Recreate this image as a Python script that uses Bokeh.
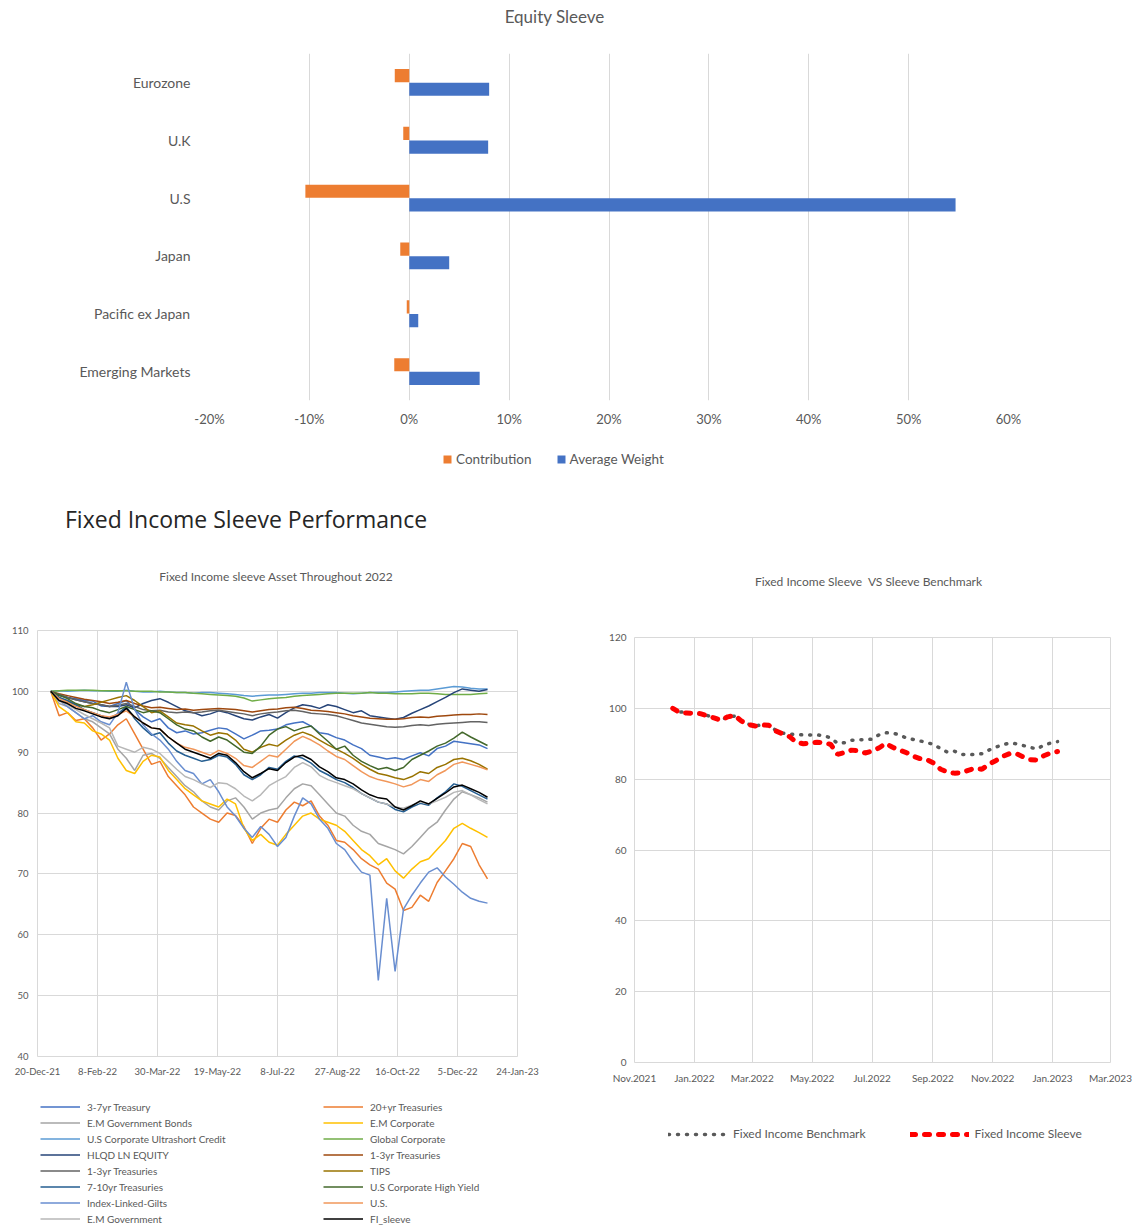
import pandas as pd
from bokeh.plotting import figure
from bokeh.models import (ColumnDataSource, FactorRange, Legend, LegendItem, Div, Spacer,
                          FixedTicker, NumeralTickFormatter, Range1d)
from bokeh.transform import dodge
from bokeh.layouts import column, row
from bokeh.embed import file_html
from bokeh.resources import INLINE

# ---------------- data: Equity Sleeve ----------------
REGIONS = ["Eurozone", "U.K", "U.S", "Japan", "Pacific ex Japan", "Emerging Markets"]
CONTRIBUTION = [-0.0145, -0.006, -0.104, -0.009, -0.0025, -0.015]
AVERAGE_WEIGHT = [0.080, 0.079, 0.547, 0.040, 0.009, 0.0705]
EQ_TICKS = [-0.2, -0.1, 0.0, 0.1, 0.2, 0.3, 0.4, 0.5, 0.6]

# ---------------- data: Fixed income assets (weekly, 2022) ----------------
FI_START = "2021-12-31"
FI_NAMES = ["3-7yr Treasury", "20+yr Treasuries", "E.M Government Bonds", "E.M Corporate",
            "U.S Corporate Ultrashort Credit", "Global Corporate", "HLQD LN EQUITY",
            "1-3yr Treasuries", "1-3yr Treasuries", "TIPS", "7-10yr Treasuries",
            "U.S Corporate High Yield", "Index-Linked-Gilts", "U.S.", "E.M Government", "FI_sleeve"]
FI_COLORS = ["#4472C4", "#ED7D31", "#A5A5A5", "#FFC000", "#5B9BD5", "#70AD47", "#264478",
             "#9E480E", "#636363", "#997300", "#255E91", "#43682B", "#698ED0", "#F1975A",
             "#B7B7B7", "#000000"]

T_3_7 = [100.0, 99.5, 99.0, 98.8, 98.5, 98.4, 97.6, 97.5, 98.0, 98.5, 97.0, 95.8, 95.0, 95.5, 94.0, 93.2,
         93.5, 93.0, 93.2, 93.6, 94.0, 93.8, 93.0, 92.2, 92.8, 93.5, 93.6, 93.8, 94.5, 94.8, 95.0, 94.3,
         93.2, 93.0, 92.4, 92.0, 91.2, 90.6, 89.5, 89.2, 88.9, 89.1, 88.8, 89.4, 89.9, 89.4, 90.6, 91.0,
         91.8, 91.6, 91.4, 91.2, 90.6]
T_20 = [100.0, 96.0, 96.5, 95.2, 95.5, 94.0, 92.0, 93.0, 94.5, 95.5, 93.0, 90.5, 88.0, 88.5, 86.0, 84.5,
        83.0, 81.0, 80.0, 79.0, 78.5, 80.0, 79.6, 77.8, 75.0, 77.5, 79.0, 78.5, 80.5, 81.8, 81.2, 82.0,
        79.5, 78.0, 75.5, 75.2, 74.0, 72.5, 71.5, 70.8, 68.5, 67.5, 64.0, 64.5, 66.5, 65.5, 68.6, 70.5,
        72.5, 75.0, 74.5, 71.5, 69.2]
EM_GOV_BONDS = [100.0, 98.0, 97.5, 96.5, 95.5, 95.0, 94.0, 93.0, 90.5, 89.0, 87.0, 89.5, 89.8, 89.0, 87.5,
                86.0, 84.5, 83.5, 82.0, 81.0, 80.5, 82.0, 82.5, 81.0, 79.0, 80.0, 80.5, 80.8, 82.5, 84.0,
                84.8, 84.5, 83.0, 81.5, 80.0, 79.5, 78.0, 77.0, 76.5, 75.0, 74.5, 74.0, 73.3, 74.5, 76.0,
                77.5, 78.5, 80.5, 82.3, 83.5, 83.0, 82.5, 81.8]
EM_CORP = [100.0, 97.5, 96.5, 95.0, 94.8, 93.5, 93.0, 92.0, 89.0, 87.0, 86.5, 88.5, 89.5, 89.2, 87.0, 85.5,
           84.0, 83.0, 82.0, 81.5, 81.0, 82.3, 81.5, 77.5, 75.5, 76.5, 75.2, 74.7, 76.5, 78.0, 79.5, 80.0,
           79.0, 78.5, 78.0, 77.0, 75.5, 74.0, 73.0, 71.5, 72.5, 70.5, 69.3, 70.8, 72.0, 72.5, 74.0, 75.5,
           77.5, 78.3, 77.5, 76.8, 76.0]
ULTRASHORT = [100.0, 100.1, 100.0, 100.1, 100.2, 100.1, 100.1, 100.0, 100.0, 100.2, 100.0, 99.9, 99.9,
              100.0, 99.9, 99.8, 99.8, 99.7, 99.8, 99.8, 99.7, 99.6, 99.5, 99.3, 99.2, 99.3, 99.4, 99.4,
              99.5, 99.6, 99.7, 99.7, 99.8, 99.8, 99.8, 99.7, 99.6, 99.7, 99.8, 99.8, 99.8, 99.9, 100.0,
              100.1, 100.2, 100.2, 100.4, 100.6, 100.8, 100.7, 100.5, 100.4, 100.4]
GLOBAL_CORP = [100.0, 100.1, 100.2, 100.2, 100.2, 100.2, 100.1, 100.1, 100.1, 100.1, 100.0, 100.0, 100.0,
               99.9, 99.9, 99.8, 99.8, 99.7, 99.6, 99.5, 99.4, 99.3, 99.2, 98.9, 98.4, 98.6, 98.8, 98.9,
               99.0, 99.2, 99.3, 99.4, 99.5, 99.6, 99.7, 99.7, 99.7, 99.7, 99.8, 99.7, 99.7, 99.6, 99.6,
               99.6, 99.7, 99.7, 99.6, 99.5, 99.5, 99.5, 99.5, 99.6, 99.7]
HLQD = [100.0, 99.3, 99.0, 98.6, 98.3, 98.0, 97.8, 97.5, 97.5, 97.8, 97.3, 98.0, 98.5, 98.8, 98.2, 97.5,
        96.8, 96.5, 96.0, 96.3, 96.8, 96.5, 96.0, 95.5, 95.3, 95.8, 96.2, 95.6, 96.5, 97.3, 97.8, 97.6,
        97.2, 97.8, 97.5, 97.0, 96.5, 96.8, 96.0, 95.8, 95.6, 95.4, 95.7, 96.4, 97.0, 97.6, 98.3, 99.0,
        99.8, 100.4, 100.2, 100.0, 100.3]
T_1_3_A = [100.0, 99.6, 99.3, 99.0, 98.7, 98.5, 98.3, 98.0, 98.2, 98.5, 98.0, 97.6, 97.3, 97.4, 97.2, 97.0,
           97.1, 96.9, 97.0, 97.1, 97.2, 97.1, 97.0, 96.8, 96.6, 96.8, 97.0, 97.1, 97.3, 97.4, 97.2, 96.9,
           96.8, 96.7, 96.5, 96.3, 96.0, 95.8, 95.6, 95.5, 95.4, 95.4, 95.5, 95.7, 95.8, 95.7, 95.9, 96.0,
           96.1, 96.2, 96.2, 96.3, 96.2]
T_1_3_B = [100.0, 99.5, 99.0, 98.6, 98.3, 98.0, 97.8, 97.5, 97.7, 98.0, 97.5, 97.0, 96.8, 96.9, 96.6, 96.5,
           96.6, 96.5, 96.6, 96.8, 96.9, 96.7, 96.5, 96.3, 96.0, 96.3, 96.5, 96.6, 96.8, 96.9, 96.7, 96.4,
           96.3, 96.2, 96.0, 95.6, 95.2, 94.8, 94.6, 94.4, 94.2, 94.1, 94.2, 94.4, 94.5, 94.4, 94.6, 94.7,
           94.8, 94.9, 95.0, 95.0, 94.9]
TIPS = [100.0, 99.0, 98.3, 97.8, 97.5, 97.8, 98.2, 98.6, 99.0, 99.3, 98.5, 97.5, 96.5, 96.8, 95.8, 94.8,
        94.5, 94.3, 93.5, 92.8, 93.2, 93.0, 92.0, 90.5, 90.0, 90.8, 91.3, 91.0, 92.0, 92.8, 93.3, 92.8,
        92.0, 91.2, 90.5, 89.8, 89.0, 88.0, 87.2, 86.5, 86.2, 85.8, 85.5, 86.0, 86.8, 86.5, 87.5, 88.0,
        88.8, 89.0, 88.6, 88.0, 87.2]
T_7_10 = [100.0, 99.0, 98.5, 97.8, 97.0, 96.5, 96.0, 95.6, 96.3, 97.5, 95.5, 94.0, 92.8, 93.2, 91.5, 90.2,
          89.5, 89.0, 88.5, 88.8, 89.5, 89.2, 88.0, 86.3, 85.5, 86.3, 87.5, 87.2, 88.5, 89.4, 89.0, 88.2,
          87.0, 86.3, 85.5, 85.0, 84.2, 83.2, 82.5, 81.8, 81.5, 80.6, 80.2, 81.0, 81.6, 81.3, 82.5, 83.5,
          84.8, 84.4, 83.7, 83.0, 82.3]
HIGH_YIELD = [100.0, 99.4, 98.8, 98.0, 97.5, 97.3, 96.8, 96.5, 97.0, 97.5, 97.0, 96.5, 96.8, 96.5, 95.5,
              94.5, 93.8, 93.5, 92.5, 91.8, 92.5, 92.0, 91.0, 90.0, 89.8, 91.0, 92.8, 93.8, 94.2, 93.5,
              94.0, 94.3, 93.0, 91.8, 90.5, 91.0, 89.5, 88.5, 87.8, 87.2, 87.5, 87.0, 87.5, 88.8, 89.5,
              90.2, 91.0, 91.5, 92.3, 93.3, 92.5, 91.8, 91.1]
IL_GILTS = [100.0, 98.5, 97.5, 96.5, 95.5, 96.0, 95.0, 94.5, 96.5, 101.5, 97.0, 94.5, 93.0, 92.0, 90.5,
            88.5, 87.0, 86.5, 84.8, 85.5, 83.5, 81.0, 79.5, 77.5, 76.0, 77.8, 76.5, 74.5, 76.0, 79.5, 82.5,
            81.5, 79.0, 77.5, 75.0, 74.0, 72.0, 70.3, 69.8, 52.5, 66.0, 54.0, 64.2, 66.5, 68.5, 70.3, 71.0,
            69.5, 68.3, 67.0, 66.0, 65.5, 65.2]
US = [100.0, 98.8, 98.2, 97.5, 97.0, 96.5, 96.0, 95.8, 96.2, 96.8, 95.8, 94.8, 94.0, 93.8, 92.5, 91.5,
      90.8, 90.5, 90.0, 89.5, 90.3, 89.8, 89.0, 87.8, 87.5, 88.5, 89.5, 89.2, 90.5, 91.8, 92.6, 92.0,
      91.2, 90.2, 89.3, 88.8, 87.8, 86.8, 86.0, 85.5, 85.2, 84.8, 84.3, 84.7, 85.5, 85.2, 86.3, 87.0,
      88.0, 88.4, 88.0, 87.6, 87.1]
EM_GOV = [100.0, 98.5, 97.8, 97.0, 96.2, 95.5, 94.8, 94.0, 91.0, 90.5, 90.0, 90.8, 90.5, 89.8, 88.5, 87.2,
          86.0, 85.5, 84.8, 84.2, 85.0, 84.8, 84.0, 82.8, 82.0, 83.0, 84.5, 85.3, 86.0, 87.5, 88.3, 87.6,
          86.2, 85.5, 85.0, 84.5, 84.0, 83.2, 82.5, 81.8, 81.5, 81.0, 80.8, 81.3, 81.8, 81.5, 82.0, 82.6,
          83.4, 83.7, 83.0, 82.2, 81.5]
FI_SLEEVE = [100.0, 98.5, 98.0, 97.2, 96.8, 96.3, 95.8, 95.5, 96.0, 97.2, 95.8, 94.8, 94.0, 93.8, 92.5,
             91.5, 90.5, 90.0, 89.5, 89.0, 89.8, 89.5, 88.3, 86.8, 85.8, 86.5, 87.3, 87.0, 88.3, 89.2, 89.5,
             88.8, 87.6, 86.8, 85.8, 85.5, 84.8, 83.8, 83.0, 82.5, 82.3, 81.0, 80.5, 81.2, 82.0, 81.5, 82.4,
             83.3, 84.3, 84.6, 84.0, 83.4, 82.6]
FI_SERIES = [T_3_7, T_20, EM_GOV_BONDS, EM_CORP, ULTRASHORT, GLOBAL_CORP, HLQD, T_1_3_A, T_1_3_B,
             TIPS, T_7_10, HIGH_YIELD, IL_GILTS, US, EM_GOV, FI_SLEEVE]
FI_XTICK_DATES = ["2021-12-20", "2022-02-08", "2022-03-30", "2022-05-19", "2022-07-08",
                  "2022-08-27", "2022-10-16", "2022-12-05", "2023-01-24"]
FI_XTICK_LABELS = ["20-Dec-21", "8-Feb-22", "30-Mar-22", "19-May-22", "8-Jul-22",
                   "27-Aug-22", "16-Oct-22", "5-Dec-22", "24-Jan-23"]
FI_YTICKS = [40, 50, 60, 70, 80, 90, 100, 110]

# ---------------- data: Sleeve vs benchmark (weekly) ----------------
SB_START = "2021-12-10"
BENCHMARK = [100.0, 99.0, 98.8, 98.7, 98.5, 98.0, 97.4, 96.7, 97.5, 97.8, 96.5, 95.5, 95.1, 95.3, 95.1,
             93.8, 93.0, 92.7, 92.6, 92.5, 92.5, 92.5, 92.3, 91.6, 90.1, 90.3, 91.0, 91.1, 91.1, 91.3,
             92.5, 93.1, 93.0, 92.5, 91.6, 91.2, 90.8, 90.3, 89.8, 88.6, 87.6, 87.9, 87.0, 86.9, 87.0,
             87.2, 88.2, 89.0, 89.7, 90.2, 90.0, 89.5, 89.0, 88.5, 89.6, 90.2, 90.6]
SLEEVE = [100.0, 98.8, 98.7, 98.6, 98.5, 97.9, 97.3, 96.6, 97.6, 98.0, 96.4, 95.4, 95.0, 95.3, 95.2, 93.6,
          92.8, 92.0, 90.4, 90.0, 90.2, 90.4, 90.3, 89.8, 87.0, 87.5, 88.2, 88.0, 87.4, 87.9, 88.8, 90.1,
          89.0, 88.2, 87.5, 86.5, 85.8, 85.5, 84.5, 82.8, 82.0, 81.7, 81.8, 82.5, 83.1, 82.8, 84.2, 85.2,
          86.4, 87.2, 87.2, 86.3, 85.5, 85.4, 86.6, 87.4, 87.8]
SB_XTICK_DATES = ["2021-11-01", "2022-01-01", "2022-03-01", "2022-05-01", "2022-07-01",
                  "2022-09-01", "2022-11-01", "2023-01-01", "2023-03-01"]
SB_XTICK_LABELS = ["Nov.2021", "Jan.2022", "Mar.2022", "May.2022", "Jul.2022",
                   "Sep.2022", "Nov.2022", "Jan.2023", "Mar.2023"]
SB_YTICKS = [0, 20, 40, 60, 80, 100, 120]

# ---------------- helpers ----------------
FONT = "Lato"
TXT = "#595959"
GRID = "#D9D9D9"
EPOCH = pd.Timestamp("1899-12-30")
CONTRIB_COLOR, WEIGHT_COLOR = "#ED7D31", "#4472C4"
BENCH_STYLE = dict(line_color="#595959", line_width=3.5, line_dash="1 8", line_cap="round")
SLEEVE_STYLE = dict(line_color="#FF0000", line_width=5, line_dash="5 9", line_cap="round")


def serial(d):
    return int((pd.Timestamp(d) - EPOCH).days)


def weekly_serials(start, n):
    return [serial(d) for d in pd.date_range(start, periods=n, freq="7D")]


def style_axes(p, size):
    for ax in p.axis:
        ax.axis_line_color = None
        ax.major_tick_line_color = None
        ax.minor_tick_line_color = None
        ax.major_tick_out = 0
        ax.major_tick_in = 0
        ax.minor_tick_out = 0
        ax.minor_tick_in = 0
        ax.major_label_text_font = FONT
        ax.major_label_text_font_size = size
        ax.major_label_text_color = TXT


def heading(text, width, height, size, font=FONT, color=TXT, align="center", indent=0, left=0):
    return Div(text=text, width=width, height=height, margin=(0, 0, 0, left),
               styles={"font-family": font, "font-size": size, "color": color,
                       "text-align": align, "line-height": f"{height}px",
                       "text-indent": f"{indent}px", "white-space": "pre"})


def legend_panel(width, height):
    # a bare canvas that only carries a legend; its renderers hold the chart's own data but
    # lie outside this canvas's ranges, so only the legend is visible
    p = figure(width=width, height=height, output_backend="svg", toolbar_location=None,
               x_axis_location=None, y_axis_location=None, min_border=0,
               x_range=Range1d(1e6, 1e6 + 1), y_range=Range1d(1e6, 1e6 + 1), title=None)
    p.outline_line_color = None
    p.grid.visible = False
    return p


def place(block, width, height, left, top):
    """Position a legend canvas inside a width x height slot with spacers."""
    inner = column(Spacer(width=width - left, height=top), block)
    return row(Spacer(width=left, height=height), inner)


def legend(items, **kw):
    base = dict(orientation="horizontal", location="top_left", padding=2, margin=0,
                border_line_color=None, background_fill_alpha=0,
                label_text_font=FONT, label_text_color=TXT)
    base.update(kw)
    return Legend(items=items, **base)


# ---------------- Equity Sleeve ----------------
EQ_TOP, EQ_H, EQ_LEG_H = 34, 396, 68          # page y: 0-34 title, 34-430 chart, 430-498 legend
eq_title = heading("Equity Sleeve", 1109, EQ_TOP, "17px")
eq = figure(width=1133, height=EQ_H, output_backend="svg", toolbar_location=None,
            y_range=FactorRange(factors=list(reversed(REGIONS))), x_range=Range1d(-0.2, 0.6),
            min_border_left=209, min_border_right=125, min_border_top=53 - EQ_TOP,
            min_border_bottom=EQ_TOP + EQ_H - 400, title=None)
src = ColumnDataSource(dict(region=REGIONS, contribution=CONTRIBUTION, weight=AVERAGE_WEIGHT))
eq.hbar(y=dodge("region", 0.118, range=eq.y_range), left=0, right="contribution",
        height=0.228, source=src, fill_color=CONTRIB_COLOR, line_color=None)
eq.hbar(y=dodge("region", -0.118, range=eq.y_range), left=0, right="weight",
        height=0.228, source=src, fill_color=WEIGHT_COLOR, line_color=None)
eq.xaxis.ticker = FixedTicker(ticks=EQ_TICKS)
eq.xaxis.formatter = NumeralTickFormatter(format="0%")
style_axes(eq, "13px")
eq.yaxis.major_label_text_font_size = "14px"
eq.xaxis.major_label_standoff = 10
eq.yaxis.major_label_standoff = 19
eq.xgrid.grid_line_color = GRID
eq.ygrid.grid_line_color = None
eq.outline_line_color = None

EQ_LEG_X, EQ_LEG_Y = 442, 21
eq_lp = legend_panel(1133 - EQ_LEG_X, EQ_LEG_H - EQ_LEG_Y)
k_c = eq_lp.hbar(y="contribution", left=0, right="weight", height=0.01, source=src,
                 fill_color=CONTRIB_COLOR, line_color=None)
k_w = eq_lp.hbar(y="weight", left=0, right="contribution", height=0.01, source=src,
                 fill_color=WEIGHT_COLOR, line_color=None)
eq_lp.add_layout(legend([LegendItem(label="Contribution", renderers=[k_c]),
                         LegendItem(label="Average Weight", renderers=[k_w])],
                        glyph_width=10, glyph_height=10, label_height=10,
                        label_standoff=4, spacing=24, label_text_font_size="13.5px"))
eq_leg_block = place(eq_lp, 1133, EQ_LEG_H, EQ_LEG_X, EQ_LEG_Y)

# ---------------- section heading ----------------
SEC_H = 42                                     # page y 498 .. 540
section = heading("Fixed Income Sleeve Performance", 1133, SEC_H, "23px", font="Open Sans",
                  color="#262626", align="left", indent=65)

# ---------------- Fixed income assets ----------------
FL_T, FL_H, FL_LEG_H = 74, 466, 146            # page y: 540-614, 614-1080, 1080-1226
fl_title = heading("Fixed Income sleeve Asset Throughout 2022", 552, FL_T, "12px")
fl_top = 540 + FL_T
fi_x = weekly_serials(FI_START, len(FI_SLEEVE))
fl = figure(width=566, height=FL_H, output_backend="svg", toolbar_location=None,
            x_range=Range1d(serial(FI_XTICK_DATES[0]), serial(FI_XTICK_DATES[-1])),
            y_range=Range1d(FI_YTICKS[0], FI_YTICKS[-1]), title=None,
            min_border_left=37, min_border_right=49, min_border_top=630 - fl_top,
            min_border_bottom=fl_top + FL_H - 1056)
for name, color, vals in zip(FI_NAMES, FI_COLORS, FI_SERIES):
    fl.line(fi_x, vals, line_color=color, line_width=1.5)
fl.xaxis.ticker = FixedTicker(ticks=[serial(d) for d in FI_XTICK_DATES])
fl.xaxis.major_label_overrides = {serial(d): t for d, t in zip(FI_XTICK_DATES, FI_XTICK_LABELS)}
fl.yaxis.ticker = FixedTicker(ticks=FI_YTICKS)
style_axes(fl, "9.5px")
fl.xaxis.major_label_standoff = 9
fl.yaxis.major_label_standoff = 9
fl.grid.grid_line_color = GRID
fl.outline_line_color = GRID

FL_LEG_X, FL_LEG_Y = 40, 20
fl_lp = legend_panel(566 - FL_LEG_X, FL_LEG_H - FL_LEG_Y)
fl_items = []
for name, color, vals in zip(FI_NAMES, FI_COLORS, FI_SERIES):
    k = fl_lp.line(fi_x, vals, line_color=color, line_width=1.6)
    fl_items.append(LegendItem(label=name, renderers=[k]))
fl_lp.add_layout(legend(fl_items, ncols=2, glyph_width=40, glyph_height=13,
                        label_height=13, label_width=233, label_standoff=7, spacing=3,
                        padding=1, label_text_font_size="10px"))
fl_leg_block = place(fl_lp, 566, FL_LEG_H, FL_LEG_X, FL_LEG_Y)

# ---------------- Sleeve vs Benchmark ----------------
FR_T, FR_H, FR_LEG_H = 84, 462, 140            # page y: 540-624, 624-1086, 1086-1226
fr_title = heading("Fixed Income Sleeve  VS Sleeve Benchmark", 529, FR_T, "12px", left=38)
fr_top = 540 + FR_T
sb_x = weekly_serials(SB_START, len(SLEEVE))
fr = figure(width=567, height=FR_H, output_backend="svg", toolbar_location=None,
            x_range=Range1d(serial(SB_XTICK_DATES[0]), serial(SB_XTICK_DATES[-1])),
            y_range=Range1d(SB_YTICKS[0], SB_YTICKS[-1]), title=None,
            min_border_left=634 - 566, min_border_right=23, min_border_top=637 - fr_top,
            min_border_bottom=fr_top + FR_H - 1064)
fr.line(sb_x, BENCHMARK, **BENCH_STYLE)
fr.line(sb_x, SLEEVE, **SLEEVE_STYLE)
fr.xaxis.ticker = FixedTicker(ticks=[serial(d) for d in SB_XTICK_DATES])
fr.xaxis.major_label_overrides = {serial(d): t for d, t in zip(SB_XTICK_DATES, SB_XTICK_LABELS)}
fr.yaxis.ticker = FixedTicker(ticks=SB_YTICKS)
style_axes(fr, "10px")
fr.xaxis.major_label_standoff = 9
fr.yaxis.major_label_standoff = 8
fr.grid.grid_line_color = GRID
fr.outline_line_color = GRID

FR_LEG_X, FR_LEG_Y = 102, 40
fr_lp = legend_panel(567 - FR_LEG_X, FR_LEG_H - FR_LEG_Y)
k_b = fr_lp.line(sb_x, BENCHMARK, **BENCH_STYLE)
k_s = fr_lp.line(sb_x, SLEEVE, **SLEEVE_STYLE)
fr_lp.add_layout(legend([LegendItem(label="Fixed Income Benchmark", renderers=[k_b]),
                         LegendItem(label="Fixed Income Sleeve", renderers=[k_s])],
                        glyph_width=59, glyph_height=10, label_height=14,
                        label_standoff=6, spacing=44, label_text_font_size="12px"))
fr_leg_block = place(fr_lp, 567, FR_LEG_H, FR_LEG_X, FR_LEG_Y)

layout = column(eq_title, eq, eq_leg_block, section,
                row(column(fl_title, fl, fl_leg_block), column(fr_title, fr, fr_leg_block)))
open("out.html", "w").write(file_html(layout, INLINE))
